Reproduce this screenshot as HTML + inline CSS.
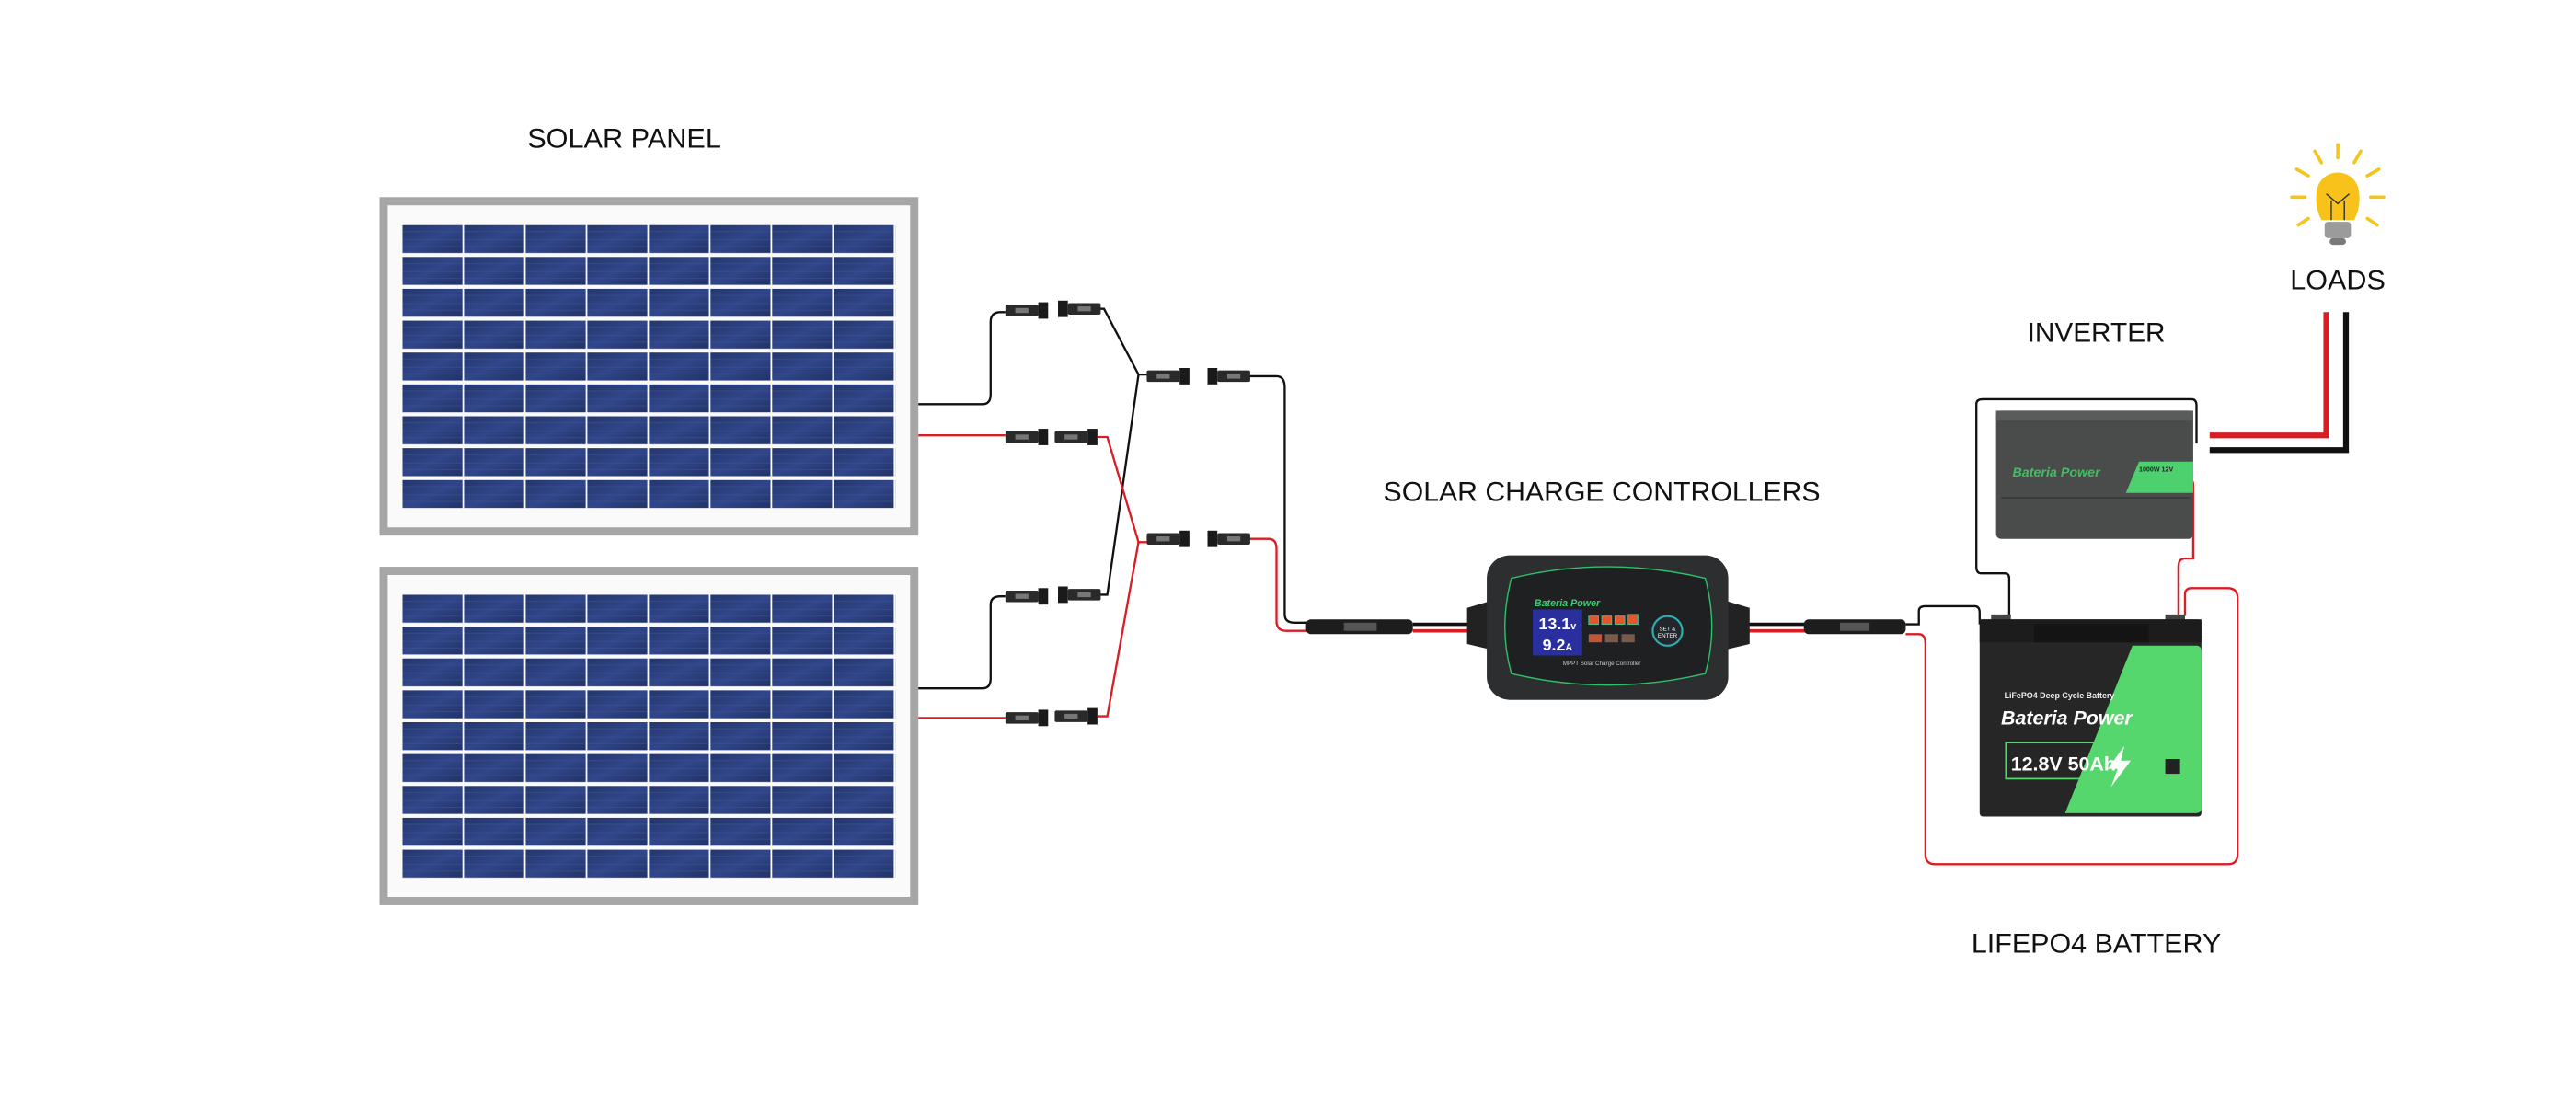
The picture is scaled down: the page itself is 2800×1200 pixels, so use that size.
<!DOCTYPE html>
<html><head><meta charset="utf-8"><style>
html,body{margin:0;padding:0;background:#fff;}
svg{display:block;}
text{font-family:"Liberation Sans","DejaVu Sans",sans-serif;}
</style></head><body>
<svg width="2800" height="1200" viewBox="0 0 1568 672" preserveAspectRatio="none" xmlns="http://www.w3.org/2000/svg">
<defs>
  <linearGradient id="cell" x1="0" y1="0" x2="1" y2="1">
    <stop offset="0" stop-color="#24366c"/><stop offset="0.5" stop-color="#30468a"/><stop offset="1" stop-color="#213266"/>
  </linearGradient>
  <pattern id="cells1" x="245" y="137" width="37.5" height="19.4" patternUnits="userSpaceOnUse">
    <rect x="0" y="0" width="36.5" height="17" fill="url(#cell)"/>
    <line x1="0" y1="4" x2="36" y2="4" stroke="#3b4f8c" stroke-width="0.4"/>
    <line x1="0" y1="9" x2="36" y2="9" stroke="#3b4f8c" stroke-width="0.4"/>
    <line x1="0" y1="13" x2="36" y2="13" stroke="#3b4f8c" stroke-width="0.4"/>
  </pattern>
  <pattern id="cells2" x="245" y="362" width="37.5" height="19.4" patternUnits="userSpaceOnUse">
    <rect x="0" y="0" width="36.5" height="17" fill="url(#cell)"/>
    <line x1="0" y1="4" x2="36" y2="4" stroke="#3b4f8c" stroke-width="0.4"/>
    <line x1="0" y1="9" x2="36" y2="9" stroke="#3b4f8c" stroke-width="0.4"/>
    <line x1="0" y1="13" x2="36" y2="13" stroke="#3b4f8c" stroke-width="0.4"/>
  </pattern>
  <g id="mc">
    <rect x="0" y="-3.5" width="20" height="7" rx="1" fill="#2a2a2a"/>
    <rect x="20" y="-5" width="6" height="10" fill="#1a1a1a"/>
    <rect x="6" y="-1.5" width="8" height="3" fill="#777"/>
  </g>
  <g id="mcr">
    <rect x="6" y="-3.5" width="20" height="7" rx="1" fill="#2a2a2a"/>
    <rect x="0" y="-5" width="6" height="10" fill="#1a1a1a"/>
    <rect x="12" y="-1.5" width="8" height="3" fill="#777"/>
  </g>
</defs>

<!-- labels -->
<g font-size="16.5" text-anchor="middle" fill="#111" transform="scale(1,1)">
<text x="380" y="90" textLength="118" lengthAdjust="spacingAndGlyphs">SOLAR PANEL</text>
<text x="975" y="305" textLength="266" lengthAdjust="spacingAndGlyphs">SOLAR CHARGE CONTROLLERS</text>
<text x="1276" y="208" textLength="84" lengthAdjust="spacingAndGlyphs">INVERTER</text>
<text x="1423" y="176" textLength="58" lengthAdjust="spacingAndGlyphs">LOADS</text>
<text x="1276" y="580" textLength="152" lengthAdjust="spacingAndGlyphs">LIFEPO4 BATTERY</text>
</g>

<!-- panels -->
<rect x="231" y="120" width="328" height="206" fill="#a6a6a6"/>
<rect x="236" y="125" width="318" height="196" fill="#fafafa"/>
<rect x="245" y="137" width="300" height="174" fill="url(#cells1)"/>
<rect x="231" y="345" width="328" height="206" fill="#a6a6a6"/>
<rect x="236" y="350" width="318" height="196" fill="#fafafa"/>
<rect x="245" y="362" width="300" height="174" fill="url(#cells2)"/>

<!-- wires black -->
<g fill="none" stroke="#111" stroke-width="1.3">
  <path d="M559,246 H598 Q603,246 603,240 V196 Q603,190 609,190 H612"/>
  <path d="M668,188 H672 L693,228 H698"/>
  <path d="M559,419 H598 Q603,419 603,413 V368 Q603,363 609,363 H612"/>
  <path d="M668,362 H674 L693,228"/>
  <path d="M760,229 H777 Q782,229 782,236 V374 Q782,379 788,379 H800"/>
  <path d="M1160,380 H1168 V372 Q1168,369 1172,369 H1202 Q1205,369 1205,373 V380"/>
  <path d="M1223,375 V352 Q1223,349 1220,349 H1206 Q1203,349 1203,345 V246 Q1203,243 1207,243 H1334 Q1337,243 1337,247 V270"/>
  <path d="M1345,274 H1428 V190" stroke-width="3.5"/>
</g>
<!-- wires red -->
<g fill="none" stroke="#d81e25" stroke-width="1.3">
  <path d="M559,265 H612"/>
  <path d="M668,266 H674 L693,330 H698"/>
  <path d="M559,437 H612"/>
  <path d="M668,436 H674 L693,330"/>
  <path d="M760,328 H772 Q777,328 777,334 V378 Q777,384 783,384 H800"/>
  <path d="M1160,386 H1168 Q1172,386 1172,392 V520 Q1172,526 1178,526 H1356 Q1362,526 1362,520 V364 Q1362,358 1356,358 H1334 Q1330,358 1330,362 V375"/>
  <path d="M1326,375 V345 Q1326,340 1330,340 H1335 V295 Q1335,292 1332,292"/>
  <path d="M1345,265 H1416 V190" stroke-width="3.5"/>
</g>

<!-- MC4 connectors -->
<use href="#mc" x="612" y="189"/><use href="#mcr" x="644" y="188"/>
<use href="#mc" x="612" y="266"/><use href="#mc" x="642" y="266"/>
<use href="#mc" x="612" y="363"/><use href="#mcr" x="644" y="362"/>
<use href="#mc" x="612" y="437"/><use href="#mc" x="642" y="436"/>
<use href="#mc" x="698" y="229"/><use href="#mcr" x="735" y="229"/>
<use href="#mc" x="698" y="328"/><use href="#mcr" x="735" y="328"/>

<!-- SAE cables to controller -->
<rect x="795" y="377" width="65" height="9" rx="3" fill="#1d1d1d"/>
<rect x="818" y="379" width="20" height="5" fill="#555"/>
<line x1="860" y1="380" x2="905" y2="380" stroke="#111" stroke-width="2"/>
<line x1="860" y1="384" x2="905" y2="384" stroke="#d81e25" stroke-width="2"/>
<line x1="1052" y1="380" x2="1100" y2="380" stroke="#111" stroke-width="2"/>
<line x1="1052" y1="384" x2="1100" y2="384" stroke="#d81e25" stroke-width="2"/>
<rect x="1098" y="377" width="62" height="9" rx="3" fill="#1d1d1d"/>
<rect x="1120" y="379" width="18" height="5" fill="#555"/>

<!-- controller -->
<path d="M893,370 L910,365 V396 L893,392 Z" fill="#222"/>
<path d="M1065,370 L1048,365 V396 L1065,392 Z" fill="#222"/>
<rect x="905" y="338" width="147" height="88" rx="14" fill="#2c2e30"/>
<path d="M920,352 Q978,338 1038,352 Q1046,382 1038,410 Q978,424 920,410 Q912,382 920,352 Z" fill="#1e2022" stroke="#2fbf6a" stroke-width="0.8"/>
<text x="934" y="369" font-size="6" font-style="italic" font-weight="bold" fill="#3cd070">Bateria Power</text>
<rect x="933" y="371" width="30" height="28" fill="#2a2fa0"/>
<text x="948" y="383" font-size="10" text-anchor="middle" fill="#fff" font-weight="bold">13.1<tspan font-size="6">v</tspan></text>
<text x="948" y="396" font-size="10" text-anchor="middle" fill="#fff" font-weight="bold">9.2<tspan font-size="6">A</tspan></text>
<rect x="967" y="375" width="6" height="5" fill="#e4572e" stroke="#3c9" stroke-width="0.5"/>
<rect x="975" y="375" width="6" height="5" fill="#e4572e" stroke="#3c9" stroke-width="0.5"/>
<rect x="983" y="375" width="6" height="5" fill="#e4572e" stroke="#3c9" stroke-width="0.5"/>
<rect x="991" y="374" width="6" height="6" fill="#e4572e" stroke="#3c9" stroke-width="0.5"/>
<rect x="967" y="386" width="8" height="5" fill="#c0553a"/>
<rect x="977" y="386" width="8" height="5" fill="#7a5a4a"/>
<rect x="987" y="386" width="8" height="5" fill="#7a5a4a"/>
<circle cx="1015" cy="384" r="9" fill="#23272c" stroke="#2ab0b0" stroke-width="1.2"/>
<text x="1015" y="384" font-size="3.5" text-anchor="middle" fill="#fff">SET &amp;</text>
<text x="1015" y="388" font-size="3.5" text-anchor="middle" fill="#fff">ENTER</text>
<text x="975" y="405" font-size="3.5" text-anchor="middle" fill="#ccc">MPPT Solar Charge Controller</text>

<!-- inverter -->
<rect x="1215" y="250" width="120" height="78" rx="3" fill="#4a4c4c"/>
<rect x="1215" y="250" width="120" height="6" fill="#5a5c5c"/>
<line x1="1218" y1="303" x2="1333" y2="303" stroke="#3a3c3c" stroke-width="1"/>
<path d="M1302,281 H1335 V300 H1294 Z" fill="#4dd06e"/>
<text x="1225" y="290" font-size="8" font-style="italic" font-weight="bold" fill="#3fbf60">Bateria Power</text>
<text x="1302" y="287" font-size="4" font-weight="bold" fill="#222">1000W 12V</text>

<!-- battery -->
<rect x="1212" y="374" width="12" height="5" fill="#444"/>
<rect x="1318" y="374" width="12" height="5" fill="#444"/>
<rect x="1205" y="377" width="135" height="120" rx="2" fill="#262626"/>
<rect x="1205" y="377" width="135" height="14" fill="#1c1c1c"/>
<rect x="1238" y="380" width="70" height="11" fill="#141414"/>
<path d="M1298,393 H1337 Q1340,393 1340,397 V492 Q1340,495 1336,495 H1257 Z" fill="#56d76e"/>
<text x="1220" y="425" font-size="5" font-weight="bold" fill="#eee">LiFePO4 Deep Cycle Battery</text>
<text x="1218" y="441" font-size="12" font-style="italic" font-weight="bold" fill="#fff">Bateria Power</text>
<rect x="1221" y="452" width="54" height="22" fill="none" stroke="#56d76e" stroke-width="1"/>
<text x="1224" y="469" font-size="12" font-weight="bold" fill="#fff">12.8V 50Ah</text>
<path d="M1293,454 L1283,468 H1289 L1285,479 L1297,463 H1291 Z" fill="#fff"/>
<rect x="1318" y="462" width="9" height="9" fill="#222"/>

<!-- bulb -->
<g stroke="#f5c518" stroke-width="2" stroke-linecap="round">
  <line x1="1423" y1="88" x2="1423" y2="96"/>
  <line x1="1409" y1="92" x2="1413" y2="99"/>
  <line x1="1437" y1="92" x2="1433" y2="99"/>
  <line x1="1398" y1="103" x2="1405" y2="107"/>
  <line x1="1448" y1="103" x2="1441" y2="107"/>
  <line x1="1395" y1="120" x2="1403" y2="120"/>
  <line x1="1443" y1="120" x2="1451" y2="120"/>
  <line x1="1399" y1="137" x2="1405" y2="133"/>
  <line x1="1447" y1="137" x2="1441" y2="133"/>
</g>
<path d="M1413,134 Q1409,126 1410,118 A13,13 0 1 1 1436,118 Q1437,126 1433,134 Z" fill="#f8c21a"/>
<rect x="1415" y="135" width="16" height="10" rx="2" fill="#9b9b9b"/>
<rect x="1418" y="145" width="10" height="4" rx="2" fill="#7a7a7a"/>
<path d="M1419,134 V122 M1427,134 V122 M1416,118 L1423,124 L1430,118" stroke="#333" stroke-width="0.8" fill="none"/>
</svg>
</body></html>
